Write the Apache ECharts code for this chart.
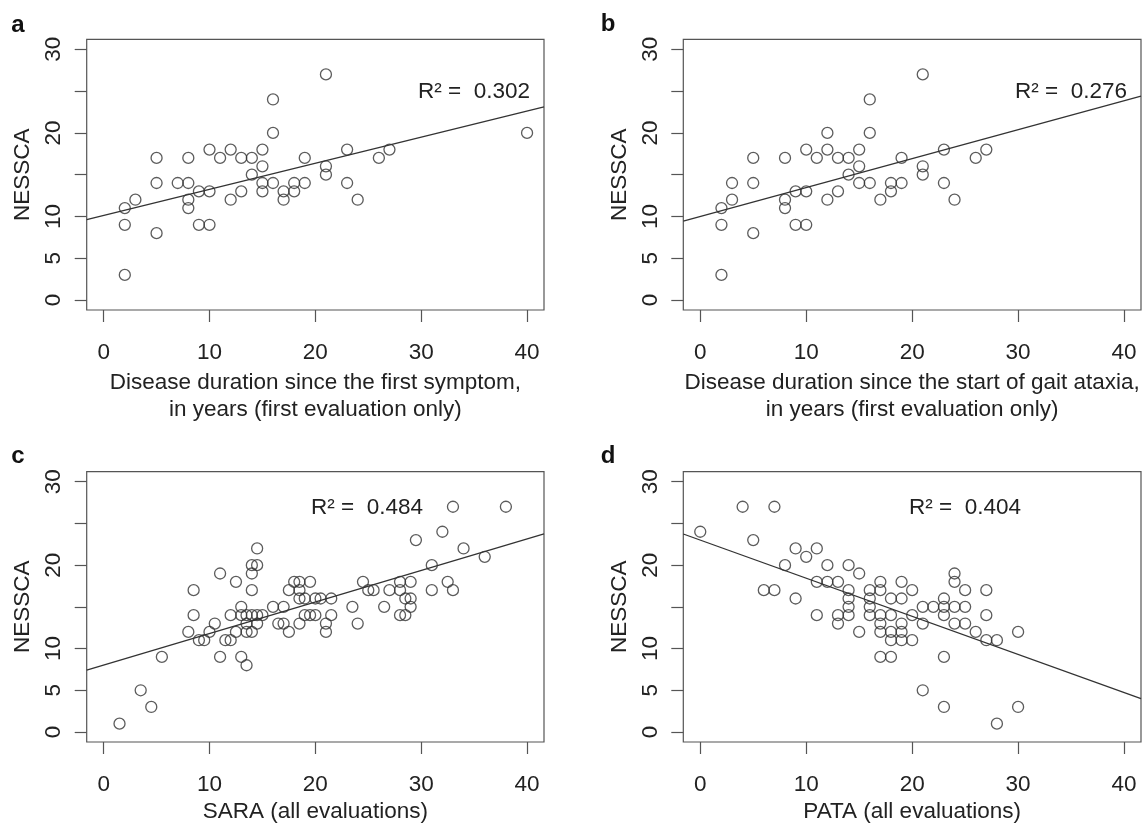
<!DOCTYPE html>
<html>
<head>
<meta charset="utf-8">
<script src="https://cdn.jsdelivr.net/npm/echarts@6/dist/echarts.min.js"></script>
<style>
html,body{margin:0;padding:0;background:#fff;}
#chart{width:1144px;height:826px;}
</style>
</head>
<body>
<div id="chart"></div>
<script>
// ---- data ----
const aX = [21,16,16,40,5,8,10,11,12,13,14,15,15,14,19,21,21,23,26,27,5,7,8,9,10,8,8,12,13,15,15,16,17,17,18,18,19,23,24,2,3,2,5,9,10,2];
const aY = [27,24,20,20,17,17,18,17,18,17,17,18,16,15,17,16,15,18,17,18,14,14,14,13,13,12,11,12,13,14,13,14,13,12,14,13,14,14,12,11,12,9,8,9,9,3];
const bX = [21,16,12,16,5,8,10,11,12,13,14,15,15,14,19,21,21,23,26,27,3,5,3,2,2,5,2,8,8,9,10,9,10,12,13,15,16,17,18,18,19,23,24];
const bY = [27,24,20,20,17,17,18,17,18,17,17,18,16,15,17,16,15,18,17,18,14,14,12,11,9,8,3,12,11,13,13,9,9,12,13,14,14,12,14,13,14,14,12];
const cX = [33,38,32,29.5,34,36,31,14.5,14,14.5,14,11,12.5,8.5,14,8.5,8,10.5,10,9,9.5,11.5,12,12.5,12,13,13,13.5,14,14.5,15,13.5,14.5,13.5,14,11,13,13.5,5.5,3.5,4.5,1.5,16,17,16.5,17,17.5,17.5,18,18.5,19.5,18.5,18.5,19,20,20.5,21.5,18.5,19,19.5,20,21.5,21,21,23.5,24,24.5,25,25.5,26.5,27,28,29,28,28.5,29,29,28,28.5,31,32.5,33];
const cY = [27,27,24,23,22,21,20,22,20,20,19,19,18,17,17,14,12,13,12,11,11,11,11,12,14,15,14,14,14,14,14,13,13,12,12,9,9,8,9,5,3,1,15,15,13,13,12,17,18,18,18,17,16,16,16,16,16,13,14,14,14,14,13,12,15,13,18,17,17,15,17,18,18,17,16,16,15,14,14,17,18,17];
const dX = [0,4,7,5,6,7,8,9,9,10,11,11,11,12,12,13,13,13,14,14,14,14,14,15,15,16,16,16,16,17,17,17,17,17,17,18,18,18,18,18,19,19,19,19,19,20,20,20,21,21,21,22,23,23,23,23,23,24,24,24,24,25,25,25,26,27,27,27,28,28,30,30];
const dY = [24,27,27,23,17,17,20,22,16,21,22,18,14,20,18,18,14,13,20,17,16,15,14,19,12,17,16,15,14,18,17,14,13,12,9,16,14,12,11,9,18,16,13,12,11,17,14,11,15,13,5,15,16,15,14,9,3,19,18,15,13,17,15,13,12,17,14,11,11,1,12,3];
// fitted lines: [intercept, slope]
const aFit = [10.12, 0.312];
const bFit = [10.0, 0.346];
const cFit = [8.02, 0.378];
const dFit = [23.0, -0.457];
const r2Labels = ['R\u00B2 =  0.302', 'R\u00B2 =  0.276', 'R\u00B2 =  0.484', 'R\u00B2 =  0.404'];
const panelLetters = ['a', 'b', 'c', 'd'];
const xTitles = [
  'Disease duration since the first symptom,\nin years (first evaluation only)',
  'Disease duration since the start of gait ataxia,\nin years (first evaluation only)',
  'SARA (all evaluations)',
  'PATA (all evaluations)'
];
const yTitle = 'NESSCA';
const xTicks = [0, 10, 20, 30, 40];
const yTicks = [0, 5, 10, 15, 20, 25, 30];
const yTickLabels = [0, 5, 10, 20, 30];
const xRange = [-1.6, 41.6];
const yRange = [-1.2, 31.2];

// ---- chart ----
const FONT = '"Liberation Sans", Arial, Helvetica, sans-serif';
const TXT = '#222';
const AX = '#555';
const FS = 22.5;
const panels = [[aX, aY, aFit], [bX, bY, bFit], [cX, cY, cFit], [dX, dY, dFit]];
const grids = [
  {left: 86.7, top: 39.3, width: 457.3, height: 270.7},
  {left: 683.3, top: 39.3, width: 457.7, height: 270.7},
  {left: 86.7, top: 471.7, width: 457.3, height: 271.6},
  {left: 683.3, top: 471.7, width: 457.7, height: 271.6}
];
const xNameGaps = [59, 59, 56, 56];

const option = {
  animation: false,
  backgroundColor: '#fff',
  grid: grids.map(g => Object.assign({show: true, borderColor: AX, borderWidth: 1.2, backgroundColor: 'transparent'}, g)),
  xAxis: grids.map((g, i) => ({
    type: 'value', gridIndex: i, min: xRange[0], max: xRange[1],
    axisLine: {show: false, onZero: false},
    splitLine: {show: false},
    axisTick: {show: true, length: 12, customValues: xTicks, lineStyle: {color: AX, width: 1.2}},
    axisLabel: {show: true, customValues: xTicks, margin: 31, fontSize: FS, color: TXT, fontFamily: FONT},
    name: xTitles[i], nameLocation: 'middle', nameGap: xNameGaps[i],
    nameTextStyle: {fontSize: FS, color: TXT, fontFamily: FONT, lineHeight: 27}
  })),
  yAxis: grids.map((g, i) => ({
    type: 'value', gridIndex: i, min: yRange[0], max: yRange[1],
    axisLine: {show: false, onZero: false},
    splitLine: {show: false},
    axisTick: {show: true, length: 12, customValues: yTicks, lineStyle: {color: AX, width: 1.2}},
    axisLabel: {show: true, customValues: yTickLabels, rotate: 90, margin: 21, fontSize: FS, color: TXT, fontFamily: FONT},
    name: yTitle, nameLocation: 'middle', nameGap: 52,
    nameTextStyle: {fontSize: FS, color: TXT, fontFamily: FONT}
  })),
  series: [],
  graphic: []
};

panels.forEach((p, i) => {
  const [xs, ys, fit] = p;
  option.series.push({
    type: 'scatter', xAxisIndex: i, yAxisIndex: i,
    data: xs.map((x, k) => [x, ys[k]]),
    symbol: 'circle', symbolSize: 11,
    itemStyle: {color: 'rgba(0,0,0,0)', borderColor: '#333', borderWidth: 1.3},
    emphasis: {disabled: true}
  });
  option.series.push({
    type: 'line', xAxisIndex: i, yAxisIndex: i,
    data: xRange.map(x => [x, fit[0] + fit[1] * x]),
    symbol: 'none', lineStyle: {color: '#333', width: 1.3}, clip: true,
    emphasis: {disabled: true}
  });
});

const letterPos = [[18, 25], [608, 24], [18, 456], [608, 456]];
letterPos.forEach((pp, i) => {
  option.graphic.push({
    type: 'text', x: pp[0], y: pp[1],
    style: {text: panelLetters[i], font: 'bold 24px ' + FONT, fill: '#111', textAlign: 'center', textVerticalAlign: 'middle'}
  });
});
const r2Pos = [[530, 92], [1127, 92], [423, 508], [1021, 508]];
r2Pos.forEach((pp, i) => {
  option.graphic.push({
    type: 'text', x: pp[0], y: pp[1],
    style: {text: r2Labels[i], font: FS + 'px ' + FONT, fill: TXT, textAlign: 'right', textVerticalAlign: 'middle'}
  });
});

const chart = echarts.init(document.getElementById('chart'), null, {renderer: 'canvas'});
chart.setOption(option);
</script>
</body>
</html>
